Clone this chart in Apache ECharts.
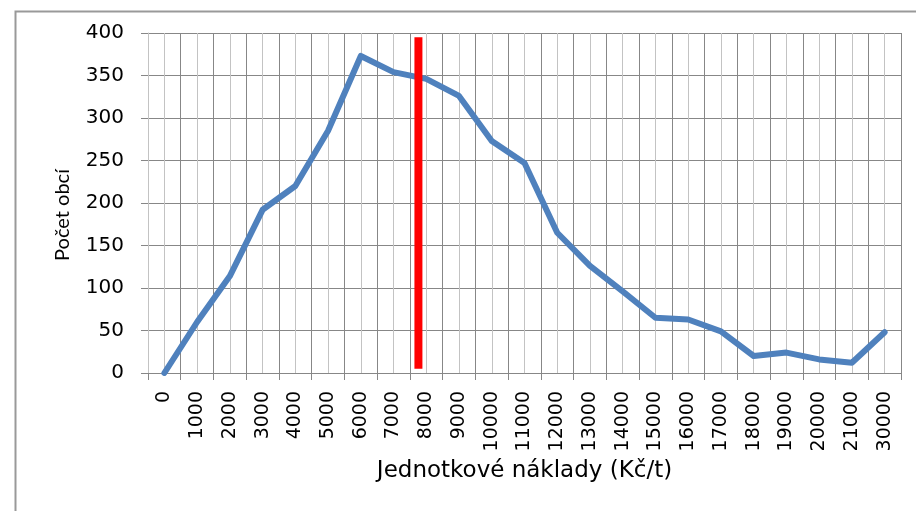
<!DOCTYPE html>
<html>
<head>
<meta charset="utf-8">
<script src="https://cdn.jsdelivr.net/npm/echarts@6/dist/echarts.min.js"></script>
<style>
html,body{margin:0;padding:0;background:#fff;}
#chart{width:916px;height:511px;}
</style>
</head>
<body>
<div id="chart"></div>
<script>
var categories = ['0','1000','2000','3000','4000','5000','6000','7000','8000','9000','10000','11000','12000','13000','14000','15000','16000','17000','18000','19000','20000','21000','30000'];
var counts = [0, 60, 114, 192, 220, 285, 373, 354, 346, 326, 273, 247, 165, 126, 96, 65, 63, 49, 20, 24, 16, 12, 48];
var yTicks = {min: 0, max: 400, interval: 50};
// red marker line: position on a 0..23 category-width scale, and its vertical extent
var markerX = 8.26;
var markerY = [5, 395];
var xTitle = 'Jednotkové náklady (Kč/t)';
var yTitle = 'Počet obcí';

var FONT = 'DejaVu Sans';
var dark = '#878787', light = '#C3C3C3';

var chart = echarts.init(document.getElementById('chart'), null, {renderer: 'canvas'});
chart.setOption({
  animation: false,
  backgroundColor: '#fff',
  graphic: [{
    type: 'rect', left: 13, top: 9, z: -10,
    shape: {width: 1000, height: 600},
    style: {fill: 'none', stroke: '#999', lineWidth: 2}
  }, {
    type: 'text', x: 63, y: 215, rotation: Math.PI / 2,
    style: {text: yTitle, font: '20px Lato', fill: '#000', align: 'center', verticalAlign: 'middle'}
  }],
  grid: {left: 148, right: 15, top: 33, bottom: 138, containLabel: false},
  xAxis: [{
    type: 'category',
    data: categories,
    boundaryGap: true,
    axisLine: {show: true, lineStyle: {color: dark, width: 1}},
    axisTick: {show: true, length: 7, interval: 0, lineStyle: {color: dark}},
    axisLabel: {rotate: 90, interval: 0, margin: 18, fontSize: 19, fontFamily: FONT, color: '#000'},
    splitLine: {show: false},
    name: xTitle,
    nameLocation: 'middle',
    nameGap: 87,
    nameTextStyle: {fontSize: 23, fontFamily: FONT, color: '#000'}
  }, {
    type: 'value',
    min: 0, max: 23, interval: 1,
    position: 'top',
    axisLine: {show: false},
    axisTick: {show: false},
    axisLabel: {show: false},
    splitLine: {show: true, lineStyle: {color: dark, width: 1}},
    minorTick: {show: false, splitNumber: 2},
    minorSplitLine: {show: true, lineStyle: {color: light, width: 1}}
  }],
  yAxis: {
    type: 'value',
    min: yTicks.min, max: yTicks.max, interval: yTicks.interval,
    axisLine: {show: true, lineStyle: {color: light, width: 1}},
    axisTick: {show: true, length: 7, lineStyle: {color: dark}},
    axisLabel: {margin: 24, fontSize: 20, fontFamily: FONT, color: '#000'},
    splitLine: {show: true, lineStyle: {color: dark, width: 1}}
  },
  series: [{
    type: 'line',
    xAxisIndex: 0,
    data: counts,
    symbol: 'none',
    smooth: false,
    lineStyle: {color: '#4F81BD', width: 6, cap: 'round', join: 'round'},
    z: 2
  }, {
    type: 'line',
    xAxisIndex: 1,
    data: [[markerX, markerY[0]], [markerX, markerY[1]]],
    symbol: 'none',
    lineStyle: {color: '#FF0000', width: 8, cap: 'butt'},
    z: 3
  }]
});
</script>
</body>
</html>
